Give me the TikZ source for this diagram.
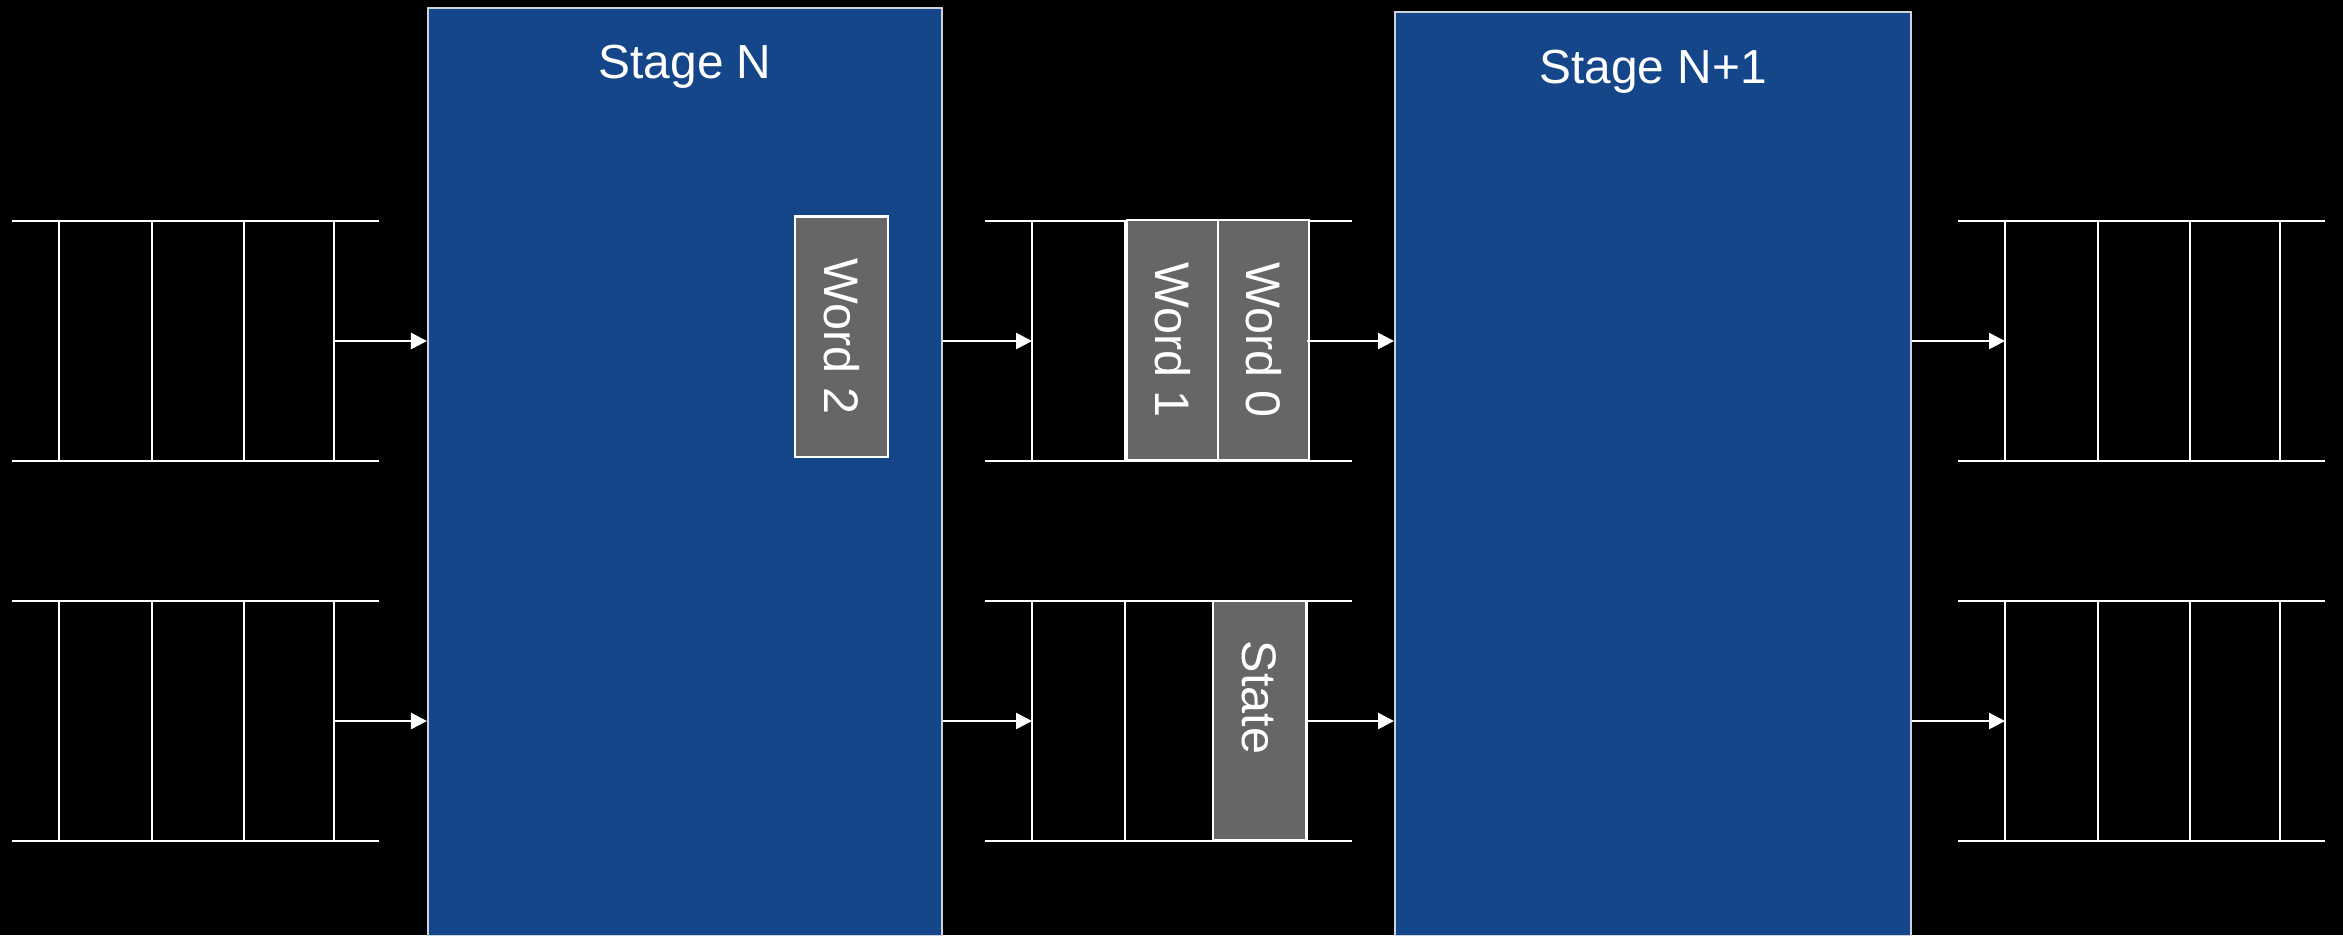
\documentclass[tikz,border=0pt]{standalone}
\usepackage{fontspec}
\setmainfont{Liberation Sans}
\usetikzlibrary{arrows.meta}
\definecolor{stageblue}{RGB}{21,70,138}
\definecolor{wordgray}{RGB}{102,102,102}
\definecolor{edgegray}{RGB}{205,210,220}
\begin{document}
\begin{tikzpicture}[x=0.01cm,y=-0.01cm,
  queueline/.style={draw=white, line width=0.7pt},
  stagebox/.style={draw=edgegray, fill=stageblue, line width=0.5pt,
    inner sep=0pt, anchor=north west},
  stagetitle/.style={text=white, font=\fontsize{13.6pt}{16pt}\selectfont, inner sep=0pt},
  wordbox/.style={draw=white, fill=wordgray, line width=0.6pt, rotate=-90,
    text=white, font=\fontsize{13.8pt}{16pt}\selectfont, inner sep=0pt,
    minimum width=2.4cm},
  wordtext/.style={rotate=-90, text=white, font=\fontsize{13.8pt}{16pt}\selectfont, inner sep=0pt},
  arr/.style={draw=white, line width=0.7pt, -{Triangle[length=0.16cm,width=0.16cm]}},
  fifo/.pic={
    \draw[queueline] (0,0) -- (367,0) (0,240) -- (367,240);
    \foreach \dx in {47,140,232,322} \draw[queueline] (\dx,0) -- (\dx,240);
    \coordinate (-in) at (47,120);
    \coordinate (-out) at (322,120);
  }
]
% background and page size
\fill[black] (0,0) rectangle (2343,935);
\useasboundingbox (0,0) rectangle (2343,935);

% pipeline stages
\node[stagebox, minimum width=5.14cm, minimum height=9.27cm] (stageN) at (427,7) {};
\node[stagebox, minimum width=5.16cm, minimum height=9.23cm] (stageN1) at (1394,11) {};
\node[stagetitle] (titleN) at ([yshift=-0.6cm]stageN.north) {Stage N};
\node[stagetitle] (titleN1) at ([yshift=-0.61cm]stageN1.north) {Stage N+1};

% queues between the stages
\pic (qa) at (12,221) {fifo};
\pic (qb) at (12,601) {fifo};
\pic (qc) at (985,221) {fifo};
\pic (qd) at (985,601) {fifo};
\pic (qe) at (1958,221) {fifo};
\pic (qf) at (1958,601) {fifo};

% words in flight
\node[wordbox, minimum height=0.93cm] (w2) at (841.5,336.5) {Word 2};
\node[wordbox, minimum height=0.91cm] (w1) at (1172.5,340) {Word 1};
\node[wordbox, minimum height=0.91cm] (w0) at (1263.5,340) {Word 0};
\node[wordbox, minimum height=0.93cm, minimum width=2.39cm] (st) at (1259.5,720.5) {};
\node[wordtext] (sttext) at ([yshift=0.23cm]st.center) {State};

% data flow
\draw[arr] (qa-out) -- (qa-out -| stageN.west);
\draw[arr] (qb-out) -- (qb-out -| stageN.west);
\draw[arr] (stageN.east |- qc-in) -- (qc-in);
\draw[arr] (stageN.east |- qd-in) -- (qd-in);
\draw[arr] (qc-out) -- (qc-out -| stageN1.west);
\draw[arr] (qd-out) -- (qd-out -| stageN1.west);
\draw[arr] (stageN1.east |- qe-in) -- (qe-in);
\draw[arr] (stageN1.east |- qf-in) -- (qf-in);
\end{tikzpicture}
\end{document}
